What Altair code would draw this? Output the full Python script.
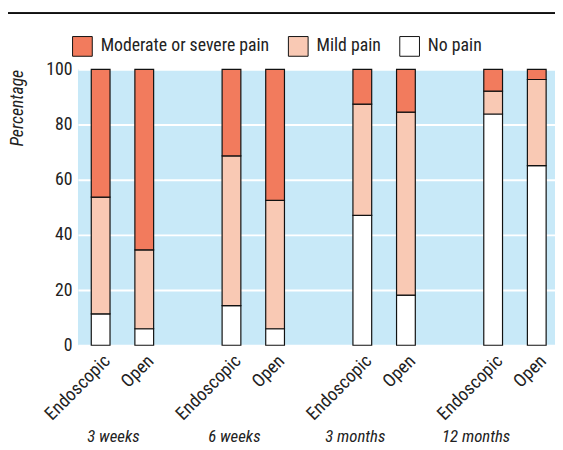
import altair as alt
import pandas as pd

times = ["3 weeks", "6 weeks", "3 months", "12 months"]
methods = ["Endoscopic", "Open"]
categories = ["Moderate or severe pain", "Mild pain", "No pain"]
# values per bar, in order: (time, method)
no_pain = [11.4, 6.0, 14.4, 6.0, 47.1, 18.2, 83.8, 65.1]
mild_pain = [42.3, 28.6, 54.2, 46.5, 40.3, 66.3, 8.3, 31.2]
moderate_pain = [46.3, 65.4, 31.4, 47.5, 12.6, 15.5, 7.9, 3.7]
y_ticks = [0, 20, 40, 60, 80, 100]

FONT = "Roboto Condensed, DejaVu Sans Condensed, Roboto, sans-serif"
ORANGE = "#F27B5D"
LIGHT = "#F9C9B4"
BG = "#C8E9F8"

rows = []
slots = []
i = 0
for ti, t in enumerate(times):
    for m in methods:
        slot = f"{t}|{m}"
        slots.append(slot)
        for cat, vals, order in [("No pain", no_pain, 0), ("Mild pain", mild_pain, 1),
                                 ("Moderate or severe pain", moderate_pain, 2)]:
            rows.append({"slot": slot, "time": t, "method": m, "pain": cat,
                         "value": vals[i], "order": order})
        i += 1
    if ti < len(times) - 1:
        slots.append(f"{t}|")
df = pd.DataFrame(rows)
real_slots = [s for s in slots if not s.endswith("|")]

W, H = 484, 280

bars = alt.Chart(df).mark_bar(stroke="#111", strokeWidth=1.2).encode(
    x=alt.X("slot:N", sort=slots,
            scale=alt.Scale(domain=slots, paddingInner=0.57, paddingOuter=0.254, align=0.6),
            axis=alt.Axis(values=real_slots, labelExpr="split(datum.label, '|')[1]",
                          labelAngle=-45, labelAlign="right", labelBaseline="top",
                          labelPadding=6, ticks=False, domain=False, title=None,
                          labelFontSize=18.5, labelFont=FONT, labelColor="#222",
                          grid=False)),
    y=alt.Y("value:Q", stack="zero",
            scale=alt.Scale(domain=[0, 100], nice=False),
            axis=alt.Axis(values=y_ticks, title="Percentage", titleFontStyle="italic",
                          titleFontWeight="normal", titleFont=FONT, titleFontSize=18,
                          titleColor="#222", titleAnchor="end", titlePadding=20,
                          labelFont=FONT, labelFontSize=18, labelColor="#222",
                          labelPadding=6, ticks=False, domain=False,
                          grid=True, gridColor="white", gridWidth=2)),
    color=alt.Color("pain:N", sort=categories,
                    scale=alt.Scale(domain=categories, range=[ORANGE, LIGHT, "white"]),
                    legend=alt.Legend(title=None, orient="none", legendX=-6, legendY=-34,
                                      direction="horizontal", symbolType="square",
                                      symbolSize=400, symbolStrokeColor="#111",
                                      symbolStrokeWidth=1, symbolOpacity=1,
                                      labelFont=FONT, labelFontSize=18, labelColor="#222",
                                      labelOffset=8, columnPadding=16, labelLimit=400,
                                      padding=0)),
    order=alt.Order("order:Q"),
)

tdf = pd.DataFrame({"time": times})
group_labels = alt.Chart(tdf).mark_text(
    font=FONT, fontSize=17, fontStyle="italic", color="#222", baseline="middle"
).encode(
    x=alt.X("time:N", sort=times, scale=alt.Scale(type="point", range=[36, 404], padding=0),
            axis=None),
    y=alt.value(H + 93),
    text="time:N",
)

top_rule = alt.Chart(tdf).mark_rule(color="#111", strokeWidth=1.2).encode(
    x=alt.value(-71), x2=alt.value(W), y=alt.value(-57)
)

chart = alt.layer(bars, group_labels, top_rule).resolve_scale(x="independent").properties(
    width=W, height=H,
    autosize=alt.AutoSizeParams(type="none"),
    padding={"left": 71, "top": 59, "right": 0, "bottom": 100},
).configure_view(fill=BG, strokeWidth=0)

chart.save("out.html", embed_options={"renderer": "svg", "actions": False})
